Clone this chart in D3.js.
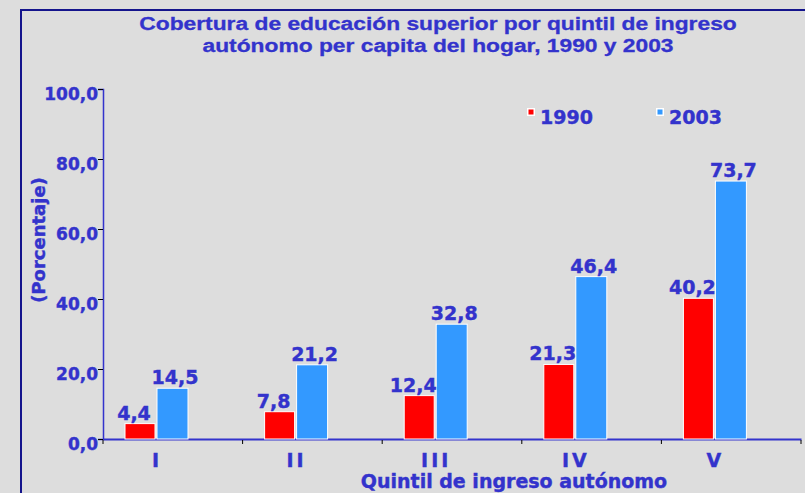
<!DOCTYPE html>
<html>
<head>
<meta charset="utf-8">
<script src="https://cdn.jsdelivr.net/npm/d3@7"></script>
<style>
  html, body { margin: 0; padding: 0; background: #dddddd; }
  svg { display: block; }
  text { font-family: "DejaVu Sans", Verdana, sans-serif; font-weight: bold; fill: #3333cc; }
  .heavy { stroke: #3333cc; stroke-width: 0.4px; }
</style>
</head>
<body>
<svg id="chart" width="805" height="493"></svg>
<script>
// data
const quintiles = ["I", "II", "III", "IV", "V"];
const series = ["1990", "2003"];
const values1990 = [4.4, 7.8, 12.4, 21.3, 40.2];
const values2003 = [14.5, 21.2, 32.8, 46.4, 73.7];
const yTicks = [0, 20, 40, 60, 80, 100];
const seriesColors = ["#ff0000", "#3399ff"];
const titleLines = [
  "Cobertura de educación superior por quintil de ingreso",
  "autónomo per capita del hogar, 1990 y 2003"
];

const W = 805, H = 493;
const svg = d3.select("#chart");
const fmt = (v) => v.toFixed(1).replace(".", ",");

// outer frame (only top and left edges are visible)
svg.append("path")
  .attr("d", `M21,${H} L21,10 L${W},10`)
  .attr("fill", "none")
  .attr("stroke", "#14148c")
  .attr("stroke-width", 2);

// title - the original lettering is wide, so stretch it a bit
svg.append("g")
  .attr("transform", "translate(438,0) scale(1.2,1)")
  .selectAll("text")
  .data(titleLines)
  .join("text")
  .attr("class", "heavy")
  .attr("x", 0)
  .attr("y", (d, i) => 30 + i * 22)
  .attr("text-anchor", "middle")
  .style("font-family", "'Liberation Sans', Arial, sans-serif")
  .style("font-size", "19px")
  .style("stroke-width", "0.3px")
  .text((d) => d);

const x = d3.scaleBand().domain(quintiles).range([103, 801]).padding(0);
const y = d3.scaleLinear().domain([0, 100]).range([439, 89]);

// y axis
const yAxis = svg.append("g").attr("transform", "translate(103,0)")
  .call(d3.axisLeft(y).tickValues(yTicks).tickSize(5).tickFormat(fmt));
yAxis.select(".domain").attr("stroke", "#3333cc").attr("stroke-width", 1.5);
yAxis.selectAll(".tick line").attr("stroke", "#000");
yAxis.selectAll(".tick text")
  .attr("class", "heavy")
  .attr("x", -5)
  .attr("dy", "0.72em")
  .attr("y", -2)
  .style("font-size", "17px")
  .attr("fill", "#3333cc");

// x axis
const xAxis = svg.append("g").attr("transform", "translate(0,439)")
  .call(d3.axisBottom(x).tickSize(0).tickPadding(0));
xAxis.select(".domain").attr("stroke", "#3333cc").attr("stroke-width", 2);
xAxis.selectAll(".tick text").remove();
// boundary ticks
svg.append("g").selectAll("line")
  .data(quintiles.concat(["end"]))
  .join("line")
  .attr("x1", (d, i) => i < quintiles.length ? x(d) : x.range()[1])
  .attr("x2", (d, i) => i < quintiles.length ? x(d) : x.range()[1])
  .attr("y1", 440)
  .attr("y2", 444)
  .attr("stroke", "#000");

// category labels (sit under the bar pairs, not the band centres)
const pairOffset = 22, barW = 30, gap = 2;
const pairMid = pairOffset + barW + gap / 2;
svg.append("g").selectAll("text")
  .data(quintiles)
  .join("text")
  .attr("class", "heavy")
  .attr("x", (d) => x(d) + pairMid + 1)
  .attr("y", 467)
  .attr("text-anchor", "middle")
  .style("font-size", "19px")
  .style("letter-spacing", "3px")
  .text((d) => d);

// axis titles
svg.append("text")
  .attr("class", "heavy")
  .attr("x", 514)
  .attr("y", 488)
  .attr("text-anchor", "middle")
  .style("font-size", "19px")
  .text("Quintil de ingreso autónomo");

svg.append("text")
  .attr("class", "heavy")
  .attr("transform", "translate(45,240) rotate(-90)")
  .attr("text-anchor", "middle")
  .style("font-size", "18px")
  .text("(Porcentaje)");

// bars
const rows = quintiles.map((q, i) => ({ q, vals: [values1990[i], values2003[i]] }));
const groups = svg.append("g").selectAll("g")
  .data(rows)
  .join("g")
  .attr("transform", (d) => `translate(${x(d.q) + pairOffset},0)`);

groups.selectAll("rect")
  .data((d) => d.vals.map((v, k) => ({ v, k })))
  .join("rect")
  .attr("x", (d) => d.k * (barW + gap))
  .attr("y", (d) => y(d.v))
  .attr("width", (d) => barW + d.k)
  .attr("height", (d) => y(0) - y(d.v))
  .attr("fill", (d) => seriesColors[d.k])
  .attr("stroke", "#ffffff")
  .attr("stroke-width", 1);

groups.selectAll("text")
  .data((d) => d.vals.map((v, k) => ({ v, k })))
  .join("text")
  .attr("class", "heavy")
  .attr("x", (d) => d.k * (barW + gap) + barW / 2 + (d.k === 0 ? -6 : 3))
  .attr("y", (d) => y(d.v) - 4)
  .attr("text-anchor", "middle")
  .style("font-size", "19px")
  .text((d) => fmt(d.v));

// legend
const legendX = [527, 656];
const legend = svg.append("g").selectAll("g")
  .data(series)
  .join("g")
  .attr("transform", (d, i) => `translate(${legendX[i]},108)`);
legend.append("rect")
  .attr("width", 8).attr("height", 8)
  .attr("fill", "#ffffff");
legend.append("rect")
  .attr("x", 1.5).attr("y", 1.5)
  .attr("width", 5).attr("height", 5)
  .attr("fill", (d, i) => seriesColors[i]);
legend.append("text")
  .attr("class", "heavy")
  .attr("x", 13)
  .attr("y", 16)
  .style("font-size", "19px")
  .text((d) => d);
</script>
</body>
</html>
